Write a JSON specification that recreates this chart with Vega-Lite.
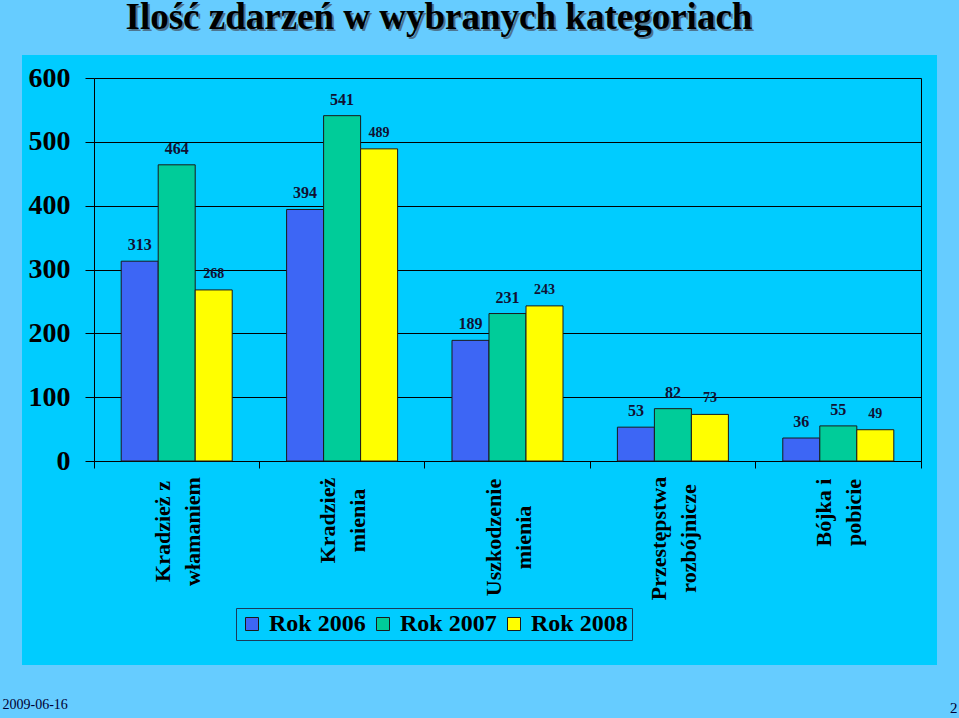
{
  "$schema": "https://vega.github.io/schema/vega-lite/v6.json",
  "width": 915,
  "height": 610,
  "autosize": {"type": "none"},
  "padding": {"left": 22, "top": 55, "right": 22, "bottom": 53},
  "background": "#66CCFF",
  "config": {
    "view": {"fill": "#00CCFF", "stroke": null},
    "font": "Liberation Serif"
  },
  "data": {
    "values": [
      {"kategoria": "Kradzież z włamaniem", "rok": "2006", "liczba": 313},
      {"kategoria": "Kradzież z włamaniem", "rok": "2007", "liczba": 464},
      {"kategoria": "Kradzież z włamaniem", "rok": "2008", "liczba": 268},
      {"kategoria": "Kradzież mienia", "rok": "2006", "liczba": 394},
      {"kategoria": "Kradzież mienia", "rok": "2007", "liczba": 541},
      {"kategoria": "Kradzież mienia", "rok": "2008", "liczba": 489},
      {"kategoria": "Uszkodzenie mienia", "rok": "2006", "liczba": 189},
      {"kategoria": "Uszkodzenie mienia", "rok": "2007", "liczba": 231},
      {"kategoria": "Uszkodzenie mienia", "rok": "2008", "liczba": 243},
      {"kategoria": "Przestępstwa rozbójnicze", "rok": "2006", "liczba": 53},
      {"kategoria": "Przestępstwa rozbójnicze", "rok": "2007", "liczba": 82},
      {"kategoria": "Przestępstwa rozbójnicze", "rok": "2008", "liczba": 73},
      {"kategoria": "Bójka i pobicie", "rok": "2006", "liczba": 36},
      {"kategoria": "Bójka i pobicie", "rok": "2007", "liczba": 55},
      {"kategoria": "Bójka i pobicie", "rok": "2008", "liczba": 49}
    ]
  },
  "layer": [
    {
      "mark": {"type": "bar", "stroke": "#1a1a1a", "strokeWidth": 1},
      "encoding": {
        "x": {
          "field": "kategoria",
          "type": "nominal",
          "sort": null,
          "scale": {"range": [72, 899], "paddingInner": 0, "paddingOuter": 0},
          "axis": {
            "orient": "bottom",
            "offset": -204,
            "bandPosition": 1,
            "tickExtra": true,
            "tickSize": 7,
            "tickColor": "#000000",
            "domainColor": "#000000",
            "labels": false,
            "title": "2009-06-16",
            "titleX": -20,
            "titleY": 247,
            "titleAlign": "left",
            "titleBaseline": "alphabetic",
            "titleAngle": 0,
            "titleFont": "Liberation Serif",
            "titleFontSize": 14,
            "titleFontWeight": "normal",
            "titleColor": "#000033"
          }
        },
        "xOffset": {
          "field": "rok",
          "type": "nominal",
          "scale": {"paddingInner": 0, "paddingOuter": 0.735}
        },
        "y": {
          "field": "liczba",
          "type": "quantitative",
          "scale": {"domain": [0, 600], "range": [406, 23], "nice": false, "zero": true},
          "axis": {
            "orient": "left",
            "offset": -72,
            "values": [0, 100, 200, 300, 400, 500, 600],
            "grid": true,
            "gridColor": "#000000",
            "gridWidth": 1,
            "gridOpacity": 1,
            "tickColor": "#000000",
            "tickSize": 9,
            "domainColor": "#000000",
            "labelFont": "Liberation Serif",
            "labelFontSize": 28,
            "labelFontWeight": "bold",
            "labelColor": "#000000",
            "labelPadding": 15,
            "title": "Ilość zdarzeń w wybranych kategoriach",
            "titleX": 33,
            "titleY": -25,
            "titleAngle": 0,
            "titleAlign": "left",
            "titleBaseline": "alphabetic",
            "titleFont": "Liberation Serif",
            "titleFontSize": 37,
            "titleFontWeight": "bold",
            "titleColor": "#4d7590"
          }
        },
        "color": {
          "field": "rok",
          "type": "nominal",
          "scale": {"domain": ["2006", "2007", "2008"], "range": ["#3D66F5", "#00CC99", "#FFFF00"]},
          "legend": {
            "orient": "none",
            "legendX": 214,
            "legendY": 553,
            "direction": "horizontal",
            "title": null,
            "symbolType": "square",
            "symbolSize": 169,
            "symbolStrokeColor": "#1a1a1a",
            "symbolStrokeWidth": 1,
            "symbolOpacity": 1,
            "labelFont": "Liberation Serif",
            "labelFontSize": 24,
            "labelFontWeight": "bold",
            "labelColor": "#000000",
            "labelOffset": 5,
            "columnPadding": 5,
            "padding": 4,
            "strokeColor": "#1a3a5a",
            "fillColor": "#00CCFF",
            "labelExpr": "'Rok ' + datum.label"
          }
        }
      }
    },
    {
      "mark": {
        "type": "text",
        "baseline": "middle",
        "dy": -16,
        "font": "Liberation Serif",
        "fontWeight": "bold",
        "color": "#111133"
      },
      "encoding": {
        "x": {
          "field": "kategoria",
          "type": "nominal",
          "sort": null,
          "axis": {
            "orient": "bottom",
            "offset": -204,
            "zindex": 1,
            "ticks": false,
            "tickSize": 0,
            "domain": false,
            "labelAngle": -90,
            "labelAlign": "center",
            "labelBaseline": "middle",
            "labelOffset": -14,
            "labelFont": "Liberation Serif",
            "labelFontSize": 22,
            "labelFontWeight": "bold",
            "labelColor": "#000000",
            "labelLineHeight": 30,
            "labelLimit": 0,
            "labelOverlap": false,
            "labelExpr": "datum.value == 'Kradzież z włamaniem' ? ['Kradzież z', 'włamaniem'] : datum.value == 'Kradzież mienia' ? ['Kradzież', 'mienia'] : datum.value == 'Uszkodzenie mienia' ? ['Uszkodzenie', 'mienia'] : datum.value == 'Przestępstwa rozbójnicze' ? ['Przestępstwa', 'rozbójnicze'] : ['Bójka i', 'pobicie']",
            "labelPadding": {
              "condition": [
                {"test": "datum.value == 'Kradzież z włamaniem'", "value": 70},
                {"test": "datum.value == 'Kradzież mienia'", "value": 59},
                {"test": "datum.value == 'Uszkodzenie mienia'", "value": 76},
                {"test": "datum.value == 'Przestępstwa rozbójnicze'", "value": 77}
              ],
              "value": 51
            },
            "title": "Ilość zdarzeń w wybranych kategoriach",
            "titleX": 103,
            "titleY": -433,
            "titleAngle": 0,
            "titleAlign": "left",
            "titleBaseline": "alphabetic",
            "titleFont": "Liberation Serif",
            "titleFontSize": 37,
            "titleFontWeight": "bold",
            "titleColor": "#000000"
          }
        },
        "xOffset": {"field": "rok", "type": "nominal"},
        "y": {
          "field": "liczba",
          "type": "quantitative",
          "axis": {
            "orient": "right",
            "offset": -16,
            "labels": false,
            "ticks": false,
            "grid": false,
            "domainColor": "#000000",
            "title": "2",
            "titleX": 36,
            "titleY": 657,
            "titleAngle": 0,
            "titleAlign": "right",
            "titleBaseline": "alphabetic",
            "titleFont": "Liberation Serif",
            "titleFontSize": 15,
            "titleFontWeight": "normal",
            "titleColor": "#000033"
          }
        },
        "text": {"field": "liczba", "type": "quantitative"},
        "size": {"condition": {"test": "datum.rok == '2008'", "value": 14}, "value": 16}
      }
    }
  ],
  "resolve": {"axis": {"x": "independent", "y": "independent"}}
}
